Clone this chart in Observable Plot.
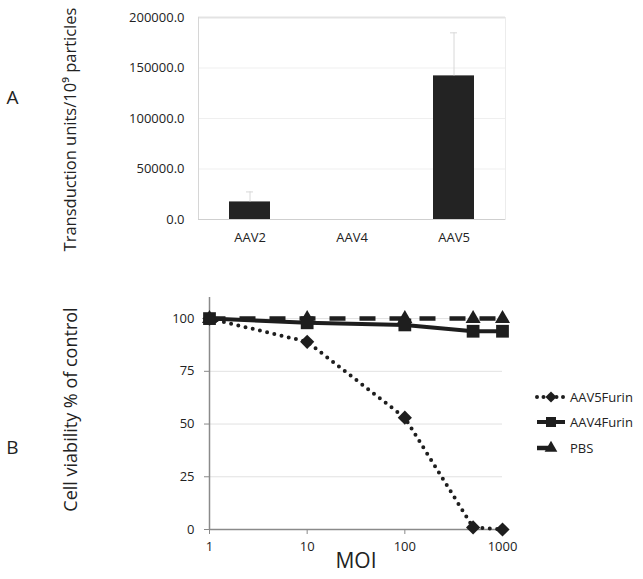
<!DOCTYPE html>
<html><head><meta charset="utf-8">
<script src="https://cdn.jsdelivr.net/npm/d3@7"></script>
<script src="https://cdn.jsdelivr.net/npm/@observablehq/plot@0.6"></script>
<style>
body{margin:0;background:#fff;}
#wrap{position:relative;width:643px;height:579px;font-family:"Open Sans",sans-serif;color:#222;}
#wrap > svg, #wrap figure svg{display:block}
#legend{position:absolute;left:535px;top:384px;font:13px "Open Sans",sans-serif;color:#222}
</style></head><body><div id="wrap"></div>
<script>
// Panel A data
const categories = ["AAV2", "AAV4", "AAV5"];
const transduction = [17400, 0, 142200];
const transductionSD = [9900, 0, 42600];
const yTicksA = [0, 50000, 100000, 150000, 200000];

// Panel B data
const moi = [1, 10, 100, 500, 1000];
const moiTicks = [1, 10, 100, 1000];
const viabilityTicks = [0, 25, 50, 75, 100];
const seriesNames = ["AAV5Furin", "AAV4Furin", "PBS"];
const aav5Furin = [100, 89, 53, 1, 0];
const aav4Furin = [100, 98, 97, 94, 94];
const pbs = [100, 100, 100, 100, 100];

const ink = "#1e1e1e";
const font = "Open Sans";

const barData = categories.map((c, i) => ({cat: c, v: transduction[i], hi: transduction[i] + transductionSD[i]}));
const errData = barData.filter(d => d.hi > d.v);

const chartA = Plot.plot({
  width: 643, height: 262,
  marginLeft: 198, marginRight: 138, marginTop: 17, marginBottom: 43,
  style: {fontFamily: font, fontSize: "13px", color: "#222", background: "#fff", overflow: "visible"},
  x: {domain: categories, paddingInner: 0.6, paddingOuter: 0.3, label: null},
  y: {domain: [0, 200000], label: null},
  marks: [
    Plot.ruleY(yTicksA.slice(1, -1), {stroke: "#efefef"}),
    Plot.ruleY([200000], {stroke: "#e3e3e3", strokeWidth: 2}),
    Plot.frame({anchor: "left", stroke: "#d6d6d6"}),
    Plot.frame({anchor: "right", stroke: "#ececec"}),
    Plot.ruleY([0], {stroke: "#cfcfcf"}),
    Plot.barY(barData, {x: "cat", y: "v", fill: "#232323"}),
    Plot.ruleX(errData, {x: "cat", y1: "v", y2: "hi", stroke: "#d8d8d8"}),
    Plot.tickY(errData, {x: "cat", y: "hi", stroke: "#d8d8d8", insetLeft: 17, insetRight: 17}),
    Plot.axisY({ticks: yTicksA, tickFormat: d3.format(".1f"), tickSize: 0, tickPadding: 14, label: null}),
    Plot.axisX({tickSize: 0, tickPadding: 13, label: null}),
    Plot.text(["A"], {text: d => d, frameAnchor: "left", textAnchor: "middle", dx: -186, dy: -21, fontSize: 19, fill: "#222"}),
    Plot.text(["Transduction units/10⁹ particles"], {text: d => d, frameAnchor: "left", textAnchor: "middle", rotate: -90, dx: -128, dy: 11, fontSize: 16.5, fill: "#222"})
  ]
});

const series = [
  {name: seriesNames[0], values: aav5Furin, symbol: "diamond2", dash: "0 7.4", cap: "round", width: 4, r: 6.4, lsize: 80},
  {name: seriesNames[1], values: aav4Furin, symbol: "square", dash: null, cap: "butt", width: 4, r: 7.2, lsize: 100},
  {name: seriesNames[2], values: pbs, symbol: "triangle", dash: "16 14", cap: "butt", width: 4.5, r: 5.6, lsize: 70}
];
series.forEach(s => { s.data = moi.map((m, i) => ({moi: m, v: s.values[i]})); });

const chartB = Plot.plot({
  width: 643, height: 317,
  marginLeft: 209, marginRight: 141, marginTop: 35, marginBottom: 50,
  style: {fontFamily: font, fontSize: "13px", color: "#222", background: "#fff", overflow: "visible"},
  x: {type: "log", domain: [1, 1000], label: null},
  y: {domain: [0, 110], label: null},
  marks: [
    Plot.ruleY(viabilityTicks.slice(1), {stroke: "#e2e2e2"}),
    Plot.ruleY([0], {stroke: "#8a8a8a", strokeWidth: 1.3}),
    Plot.ruleX([1], {stroke: "#8a8a8a", strokeWidth: 1.5}),
    Plot.axisY({ticks: viabilityTicks, tickSize: 5, tickPadding: 10, stroke: "#8a8a8a", label: null}),
    Plot.axisX({ticks: moiTicks, tickFormat: d => String(d), tickSize: 5, tickPadding: 7, stroke: "#8a8a8a", label: null}),
    ...series.map(s => Plot.line(s.data, {x: "moi", y: "v", stroke: ink, strokeWidth: s.width, strokeDasharray: s.dash, strokeLinecap: s.cap})),
    ...series.map(s => Plot.dot(s.data, {x: "moi", y: "v", symbol: () => s.symbol, fill: ink, stroke: "none", r: s.r})),
    Plot.text(["MOI"], {text: d => d, frameAnchor: "bottom", dy: 38, fontSize: 21, fill: "#222"}),
    Plot.text(["B"], {text: d => d, frameAnchor: "left", textAnchor: "middle", dx: -197, dy: 34, fontSize: 19, fill: "#222"}),
    Plot.text(["Cell viability % of control"], {text: d => d, frameAnchor: "left", textAnchor: "middle", rotate: -90, dx: -138, dy: -4, fontSize: 18, fill: "#222"})
  ]
});

const wrap = document.getElementById("wrap");
wrap.appendChild(chartA);
wrap.appendChild(chartB);

const symbolMap = {diamond2: d3.symbolDiamond2, square: d3.symbolSquare, triangle: d3.symbolTriangle};
const legend = d3.select(wrap).append("div").attr("id", "legend");
series.forEach(s => {
  const row = legend.append("div").style("display", "flex").style("align-items", "center").style("height", "25.5px");
  const svg = row.append("svg").attr("width", 35).attr("height", 16).style("display", "block");
  svg.append("line").attr("x1", 2).attr("x2", 30).attr("y1", 8).attr("y2", 8)
    .attr("stroke", ink).attr("stroke-width", s.width)
    .attr("stroke-dasharray", s.symbol === "diamond2" ? "0 6.5" : s.symbol === "triangle" ? "12 20" : null)
    .attr("stroke-linecap", s.cap);
  svg.append("path").attr("transform", "translate(16,8)").attr("d", d3.symbol(symbolMap[s.symbol], s.lsize)()).attr("fill", ink);
  row.append("span").text(s.name);
});
</script>
</body></html>
